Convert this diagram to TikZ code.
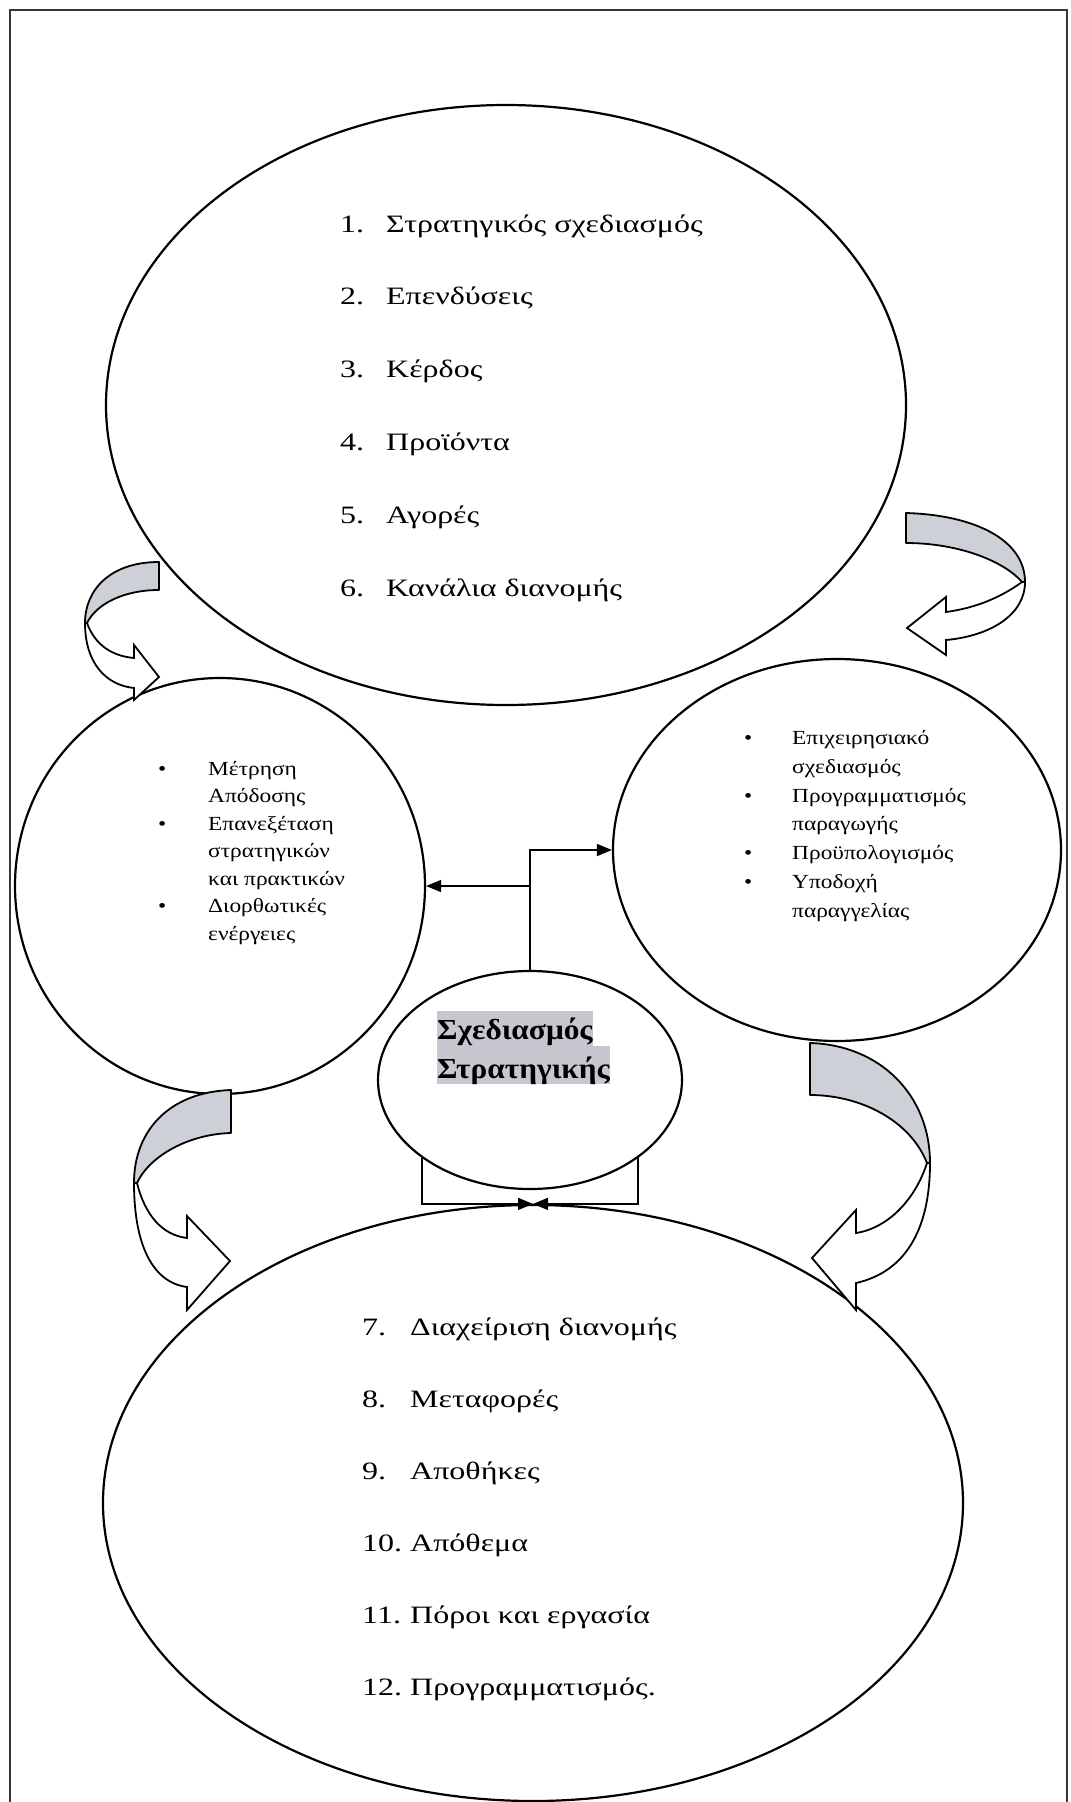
\documentclass[tikz,border=0pt]{standalone}
\usepackage{fontspec}
\setmainfont{Liberation Serif}
\newfontfamily\listfont{Liberation Serif}[FakeStretch=1.28]
\newfontfamily\smallfont{Liberation Serif}[FakeStretch=1.17]
\newfontfamily\titlefont{Liberation Serif}[FakeStretch=1.08]
\usetikzlibrary{arrows.meta,shapes.geometric}
\definecolor{ribbon}{RGB}{206,208,216}
\definecolor{hlgray}{RGB}{198,199,207}
\definecolor{framegray}{RGB}{55,55,55}
% list helpers: number / bullet column and continuation indent
\newcommand{\numcol}[1]{\makebox[46pt][l]{#1}}
\newcommand{\numcolb}[1]{\makebox[48pt][l]{#1}}
\newcommand{\bulL}{\makebox[50pt][l]{•}}
\newcommand{\contL}{\hspace*{50pt}}
\newcommand{\bulR}{\makebox[48pt][l]{•}}
\newcommand{\contR}{\hspace*{48pt}}

\begin{document}
\begin{tikzpicture}[x=1pt,y=-1pt,
  outline/.style={ellipse, draw=black, line width=2.2pt, inner sep=0pt},
  ribbonband/.style={draw=black, line width=1.8pt, fill=ribbon, line join=round},
  ribbonturn/.style={draw=black, line width=1.8pt, fill=white, line join=miter},
  link/.style={draw=black, line width=1.6pt, -{Triangle[length=15pt,width=12pt]}},
  % multi-line nodes are placed by the baseline of their last line
  listtext/.style={anchor=base west, align=left, inner sep=0pt, font=\listfont\fontsize{25}{72.8}\selectfont},
  bullettext/.style={anchor=base west, align=left, inner sep=0pt, font=\smallfont\fontsize{20}{27.5}\selectfont},
  hl/.style={anchor=base west, fill=hlgray, inner sep=0pt, font=\titlefont\bfseries\fontsize{29}{39}\selectfont},
]
\useasboundingbox (0,0) rectangle (1071,1802);

% page frame (open at the bottom)
\draw[line width=2pt, framegray] (10,1802) -- (10,10) -- (1067,10) -- (1067,1802);

% the five ellipses
\node[outline, minimum width=800pt, minimum height=600pt] (top) at (506,405) {};
\node[outline, minimum width=410pt, minimum height=416pt] (lc) at (220,886) {};
\node[outline, minimum width=448pt, minimum height=382pt] (rc) at (837,850) {};
\node[outline, minimum width=304pt, minimum height=218pt] (cen) at (530,1080) {};
\node[outline, minimum width=860pt, minimum height=596pt] (bot) at (533,1503) {};

% numbered lists
\node[listtext] (toplist) at (340,596) {%
  \numcol{1.}Στρατηγικός σχεδιασμός\\
  \numcol{2.}Επενδύσεις\\
  \numcol{3.}Κέρδος\\
  \numcol{4.}Προϊόντα\\
  \numcol{5.}Αγορές\\
  \numcol{6.}Κανάλια διανομής};

\node[listtext, font=\listfont\fontsize{25}{72}\selectfont] (botlist) at (362,1695) {%
  \numcolb{7.}Διαχείριση διανομής\\
  \numcolb{8.}Μεταφορές\\
  \numcolb{9.}Αποθήκες\\
  \numcolb{10.}Απόθεμα\\
  \numcolb{11.}Πόροι και εργασία\\
  \numcolb{12.}Προγραμματισμός.};

% bullet lists in the side circles
\node[bullettext] (lclist) at (158,940) {%
  \bulL Μέτρηση\\
  \contL Απόδοσης\\
  \bulL Επανεξέταση\\
  \contL στρατηγικών\\
  \contL και πρακτικών\\
  \bulL Διορθωτικές\\
  \contL ενέργειες};

\node[bullettext, font=\smallfont\fontsize{20}{28.7}\selectfont] (rclist) at (744,917) {%
  \bulR Επιχειρησιακό\\
  \contR σχεδιασμός\\
  \bulR Προγραμματισμός\\
  \contR παραγωγής\\
  \bulR Προϋπολογισμός\\
  \bulR Υποδοχή\\
  \contR παραγγελίας};

% highlighted title in the centre
\node[hl, text height=28pt, text depth=7pt] (title1) at (437,1039) {Σχεδιασμός};
\node[hl, text height=32pt, text depth=6pt] (title2) at (437,1078) {Στρατηγικής};

% elbow connectors from the centre ellipse
\draw[link] (cen.north) |- (lc.east);
\draw[link] (cen.north) |- (rc.west);
\draw[link] (cen.south west) |- (bot.north);
\draw[link] (cen.south east) |- (bot.north);

% curved ribbon arrows: shaded band, then the white turned-over part with its head
% upper left
\draw[ribbonband] (159,562) .. controls (110,562) and (85,590) .. (85,623)
  -- (87,623) .. controls (97,603) and (125,590) .. (159,590) -- cycle;
\draw[ribbonturn] (87,623) .. controls (95,645) and (112,656) .. (134,658)
  -- (134,645) -- (159,677) -- (134,700) -- (134,688)
  .. controls (105,685) and (85,662) .. (85,623) -- cycle;
% upper right
\draw[ribbonband] (906,513) .. controls (975,515) and (1025,540) .. (1025,582)
  -- (1022,582) .. controls (1005,562) and (960,543) .. (906,543) -- cycle;
\draw[ribbonturn] (1022,582) .. controls (1000,598) and (975,608) .. (946,612)
  -- (946,597) -- (907,628) -- (946,655) -- (946,640)
  .. controls (990,636) and (1025,615) .. (1025,582) -- cycle;
% lower left
\draw[ribbonband] (231,1090) .. controls (170,1092) and (134,1130) .. (134,1183)
  -- (137,1183) .. controls (150,1155) and (190,1134) .. (231,1133) -- cycle;
\draw[ribbonturn] (137,1183) .. controls (145,1215) and (162,1235) .. (187,1238)
  -- (187,1216) -- (230,1261) -- (187,1310) -- (187,1287)
  .. controls (150,1282) and (134,1240) .. (134,1183) -- cycle;
% lower right
\draw[ribbonband] (810,1043) .. controls (880,1045) and (930,1095) .. (930,1163)
  -- (927,1163) .. controls (910,1120) and (860,1095) .. (810,1095) -- cycle;
\draw[ribbonturn] (927,1163) .. controls (915,1200) and (888,1228) .. (856,1233)
  -- (856,1210) -- (812,1258) -- (856,1310) -- (856,1283)
  .. controls (905,1272) and (930,1230) .. (930,1163) -- cycle;
\end{tikzpicture}
\end{document}
